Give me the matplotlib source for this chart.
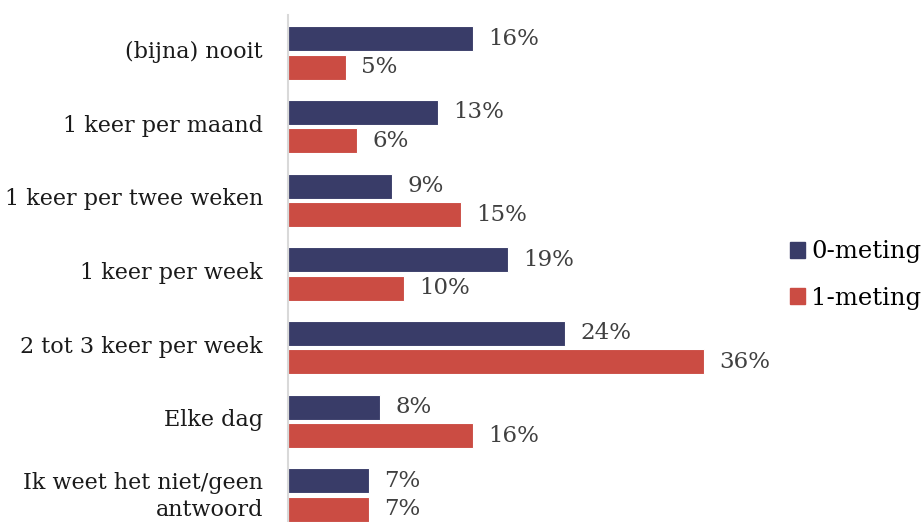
import numpy as np
import matplotlib
matplotlib.use("Agg")
import matplotlib.pyplot as plt
from matplotlib.patches import Patch

plt.rcParams['font.family'] = ['DejaVu Serif']

categories = ['(bijna) nooit', '1 keer per maand', '1 keer per twee weken',
              '1 keer per week', '2 tot 3 keer per week', 'Elke dag',
              'Ik weet het niet/geen\nantwoord']
meting0 = [16, 13, 9, 19, 24, 8, 7]
meting1 = [5, 6, 15, 10, 36, 16, 7]
series_names = ['0-meting', '1-meting']

navy = '#393C68'
red = '#CB4C43'

fig = plt.figure(figsize=(9.24, 5.22), dpi=100)
# axes run off the bottom edge, last group is cut like in the export
ax = fig.add_axes([288/924, 0.0, 460/924, 507/522])

y = np.arange(len(categories))
h = 0.34
off = 0.193
ax.barh(y - off, meting0, height=h, color=navy, edgecolor='white', linewidth=0.8)
ax.barh(y + off, meting1, height=h, color=red, edgecolor='white', linewidth=0.8)

ax.set_xlim(0, 39.8)
ax.set_ylim(6.366, -0.516)

for i, (a, b) in enumerate(zip(meting0, meting1)):
    ax.annotate(f'{a}%', (a, i - off), xytext=(11, 0), textcoords='offset points',
                va='center', ha='left', fontsize=16.5, color='#404040')
    ax.annotate(f'{b}%', (b, i + off), xytext=(11, 0), textcoords='offset points',
                va='center', ha='left', fontsize=16.5, color='#404040')

ax.set_yticks(y - 0.05)
ax.set_yticklabels(categories, fontsize=16, color='#1a1a1a', linespacing=1.3)
ax.tick_params(axis='y', length=0, pad=18)
ax.set_xticks([])
for s in ['top', 'right', 'bottom']:
    ax.spines[s].set_visible(False)
ax.spines['left'].set_color('#d9d9d9')
ax.spines['left'].set_linewidth(1.5)

handles = [Patch(color=navy), Patch(color=red)]
fig.legend(handles, series_names, loc='center left', bbox_to_anchor=(783/924, 1 - 275/522),
           frameon=False, fontsize=17.5, handlelength=0.6, handleheight=0.6,
           handletextpad=0.25, labelspacing=0.95, borderaxespad=0, borderpad=0.3)

fig.savefig('out.png', dpi=100)
